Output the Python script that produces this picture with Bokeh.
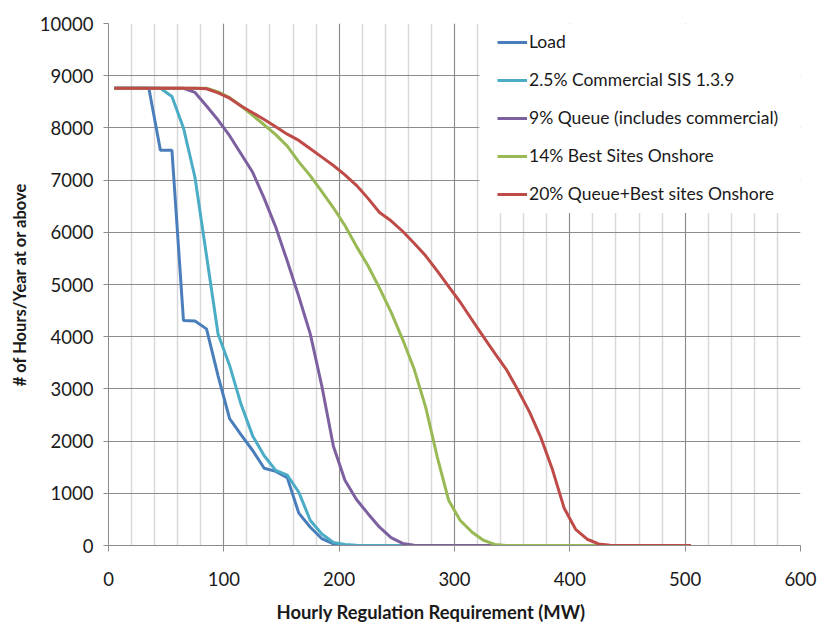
from bokeh.plotting import figure
from bokeh.models import (Range1d, SingleIntervalTicker, Legend, LegendItem,
                          BoxAnnotation, Title)
from bokeh.embed import file_html
from bokeh.resources import INLINE

# ---- data ----
mw = [5, 15, 25, 35, 45, 55, 65, 75, 85, 95, 105, 115, 125, 135, 145, 155, 165,
      175, 185, 195, 205, 215, 225, 235, 245, 255, 265, 275, 285, 295, 305, 315,
      325, 335, 345, 355, 365, 375, 385, 395, 405, 415, 425, 435, 445, 455, 465,
      475, 485, 495, 505]

load = [8760, 8760, 8760, 8760, 7570, 7570, 4310, 4300, 4150, 3250, 2430, 2120,
        1820, 1480, 1420, 1300, 620, 350, 130, 30, 5] + [0] * 30

commercial = [8760, 8760, 8760, 8760, 8760, 8600, 8000, 7050, 5550, 4050, 3450,
              2700, 2100, 1720, 1440, 1350, 1020, 480, 220, 60, 20, 5] + [0] * 29

queue9 = [8760, 8760, 8760, 8760, 8760, 8760, 8760, 8680, 8420, 8150, 7850, 7500,
          7150, 6650, 6100, 5450, 4770, 4050, 3050, 1900, 1250, 880, 610, 350,
          150, 40, 5] + [0] * 24

best14 = [8760, 8760, 8760, 8760, 8760, 8760, 8760, 8760, 8760, 8690, 8580, 8420,
          8240, 8060, 7870, 7650, 7350, 7080, 6780, 6470, 6130, 5730, 5360, 4930,
          4470, 3950, 3380, 2650, 1700, 860, 480, 260, 100, 20] + [0] * 17

queue20 = [8760, 8760, 8760, 8760, 8760, 8760, 8760, 8760, 8750, 8670, 8570, 8420,
           8290, 8160, 8020, 7880, 7760, 7600, 7440, 7280, 7100, 6900, 6650, 6380,
           6220, 6020, 5790, 5550, 5260, 4960, 4660, 4330, 4000, 3680, 3370, 2980,
           2560, 2060, 1450, 720, 310, 120, 30, 5] + [0] * 7

series_names = ["Load", "2.5% Commercial SIS 1.3.9", "9% Queue (includes commercial)",
                "14% Best Sites Onshore", "20% Queue+Best sites Onshore"]
series_values = [load, commercial, queue9, best14, queue20]
series_colors = ["#4A7EBB", "#4BACC6", "#7D60A0", "#98B954", "#BE4B48"]

FONT = "Lato"
TXT = "#1a1a1a"
GRID_DARK = "#8c8c8c"
GRID_LIGHT = "#d9d9d9"

p = figure(frame_width=692, frame_height=522, output_backend="svg",
           toolbar_location=None, x_range=Range1d(0, 600), y_range=Range1d(0, 10000),
           min_border_left=108, min_border_right=19, min_border_top=23,
           min_border_bottom=79)
p.outline_line_color = None
p.background_fill_color = "white"

xt = SingleIntervalTicker(interval=100, num_minor_ticks=5)
yt = SingleIntervalTicker(interval=1000, num_minor_ticks=0)
p.xaxis.ticker = xt
p.yaxis.ticker = yt
p.xgrid.ticker = xt
p.ygrid.ticker = yt

p.xgrid.grid_line_color = GRID_DARK
p.xgrid.minor_grid_line_color = GRID_LIGHT
p.xgrid.minor_grid_line_width = 1.5
p.ygrid.grid_line_color = GRID_DARK

for ax in (p.xaxis, p.yaxis):
    ax.axis_line_color = GRID_DARK
    ax.major_tick_line_color = GRID_DARK
    ax.minor_tick_line_color = None
    ax.major_tick_in = 0
    ax.major_label_text_font = FONT
    ax.major_label_text_font_size = "18.5px"
    ax.major_label_text_color = TXT

p.xaxis.major_tick_out = 6
p.yaxis.major_tick_out = 5
p.xaxis.major_label_standoff = 20
p.yaxis.major_label_standoff = 10

p.yaxis.axis_label = "# of Hours/Year at or above"
p.yaxis.axis_label_text_font = FONT
p.yaxis.axis_label_text_font_size = "16.5px"
p.yaxis.axis_label_text_font_style = "bold"
p.yaxis.axis_label_text_color = TXT
p.yaxis.axis_label_standoff = 7

p.add_layout(Title(text="Hourly Regulation Requirement (MW)", align="left", offset=168,
                   text_font=FONT, text_font_size="18.4px", text_font_style="bold",
                   text_color=TXT, standoff=20), "below")

renderers = []
for vals, col in zip(series_values, series_colors):
    r = p.line(mw, vals, line_color=col, line_width=3)
    renderers.append(r)

# white legend background box
p.add_layout(BoxAnnotation(left=321.5, right=600, bottom=6370, top=10000,
                           fill_color="white", fill_alpha=1, line_color=None,
                           level="overlay"))

legend = Legend(items=[LegendItem(label=n, renderers=[r]) for n, r in zip(series_names, renderers)],
                location=(389, 341), background_fill_alpha=0, border_line_alpha=0,
                padding=0, margin=0, spacing=17, glyph_width=30, glyph_height=20,
                label_height=20, label_standoff=2, label_text_font=FONT,
                label_text_font_size="17.5px", label_text_color=TXT, level="overlay")
p.add_layout(legend)

open("out.html", "w").write(file_html(p, INLINE))
